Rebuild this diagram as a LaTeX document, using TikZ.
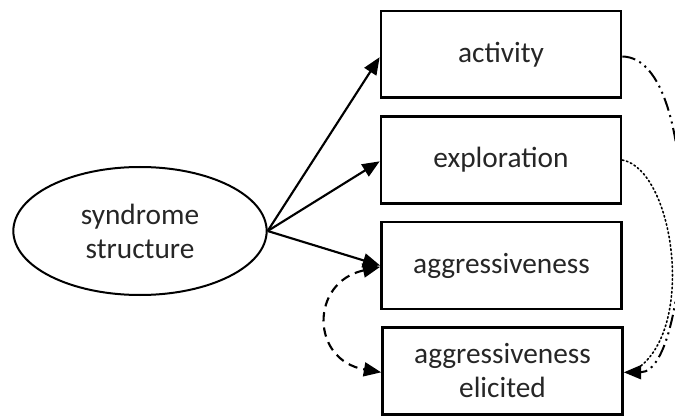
\documentclass[tikz,border=0pt]{standalone}
\usepackage{fontspec}
\setmainfont{Carlito}
\usetikzlibrary{arrows.meta,shapes.geometric}
\begin{document}
\begin{tikzpicture}[x=0.75pt,y=-0.75pt,
  txt/.style={font=\fontsize{22}{25.5}\selectfont, text=black!85, align=center},
  box/.style={txt, draw, line width=2pt, minimum width=180pt, minimum height=65pt, inner sep=0pt},
  latent/.style={txt, draw, ellipse, line width=1.5pt, minimum width=190pt, minimum height=96pt, inner sep=0pt},
  head/.style={Triangle[length=13pt,width=10.5pt]},
  path/.style={line width=1.6pt, -{Triangle[length=13pt,width=10.5pt]}}
]
\useasboundingbox (0,0) rectangle (675,417);

\node[latent] (syn) at (140,231) {syndrome\\structure};
\node[box] (act) at (501,54.5) {activity};
\node[box] (exp) at (501,160) {exploration};
\node[box] (agg) at (501.5,265.5) {aggressiveness};
\node[box] (eli) at (502.5,371) {aggressiveness\\elicited};

% loadings of the latent syndrome
\draw[path] (syn.east) -- ([yshift=-2pt]act.west);
\draw[path] (syn.east) -- ([yshift=-1pt]exp.west);
\draw[path] (syn.east) -- (agg.west);

% residual covariances
\draw[line width=1.6pt, dash pattern=on 7pt off 4.5pt,
      {Triangle[length=13pt,width=10.5pt]}-{Triangle[length=13pt,width=10.5pt]}]
  ([yshift=-1pt]agg.west) .. controls (310,282) and (310,360) .. ([yshift=-1pt]eli.west);
\draw[line width=1.5pt, -{Triangle[length=13pt,width=10.5pt]},
      dash pattern=on 10pt off 3.5pt on 1.5pt off 3.5pt on 1.5pt off 3.5pt]
  ([yshift=-1.5pt]act.east) .. controls (705,58) and (692,372) .. ([yshift=-1pt]eli.east);
\coordinate (dotend) at ([xshift=9pt,yshift=1pt]eli.east);
\draw[line width=1.2pt, dotted, line cap=round]
  (exp.east) .. controls (674,170) and (697,330) .. (dotend);
\end{tikzpicture}
\end{document}
